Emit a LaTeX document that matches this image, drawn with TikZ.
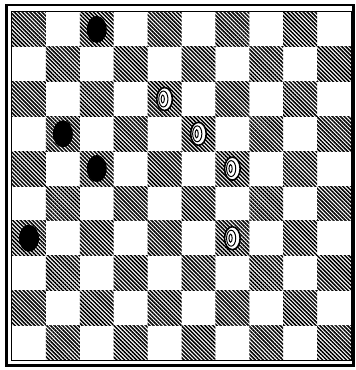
\documentclass[tikz,border=0pt]{standalone}
\usepackage{tikz}
\usetikzlibrary{patterns.meta,calc}
\tikzset{
  dsq/.style={pattern={Lines[angle=-45,distance=2.8pt,line width=1.5pt]}}, % dark square
  frame/.style={draw=black,line width=2.6pt},
  inframe/.style={draw=black,line width=0.8pt},
  bman/.style={fill=black},                          % black man
  wman/.style={draw=black,fill=white,line width=1.6pt}, % white man
  wring/.style={draw=black,line width=1pt},
}
\newcommand{\blackman}[2]{% col, row
  \fill[bman] (#1+0.5,#2+0.5) ellipse [x radius=10pt,y radius=13.5pt];
}
\newcommand{\whiteman}[2]{% col, row
  \draw[wman] (#1+0.5,#2+0.5) ellipse [x radius=7.8pt,y radius=11.5pt];
  \draw[wring] ($(#1+0.5,#2+0.5)+(-1.2pt,0)$) ellipse [x radius=4.6pt,y radius=8pt];
  \draw[wring] ($(#1+0.5,#2+0.5)+(-1.8pt,0)$) ellipse [x radius=1.6pt,y radius=4pt];
}

\begin{document}
\begin{tikzpicture}[x=1pt,y=-1pt]
  \useasboundingbox (0,0) rectangle (356,370);
  \fill[white] (0,0) rectangle (356,370);
  \begin{scope}[shift={(12,12)},x=33.9pt,y=-34.8pt]
    % board
    \foreach \r in {0,...,9}
      \foreach \c in {0,...,9} {
        \pgfmathtruncatemacro{\sqpar}{mod(\r+\c,2)}
        \ifnum\sqpar=0 \fill[dsq] (\c,\r) rectangle (\c+1,\r+1); \fi
      }
    \draw[inframe] (-0.03,-0.03) rectangle (10.01,10.01);
    % black
    \blackman{2}{0}
    \blackman{1}{3}
    \blackman{2}{4}
    \blackman{0}{6}
    % white
    \whiteman{4}{2}
    \whiteman{5}{3}
    \whiteman{6}{4}
    \whiteman{6}{6}
  \end{scope}
  \draw[frame] (6.5,4.8) rectangle (353.2,365.2);
\end{tikzpicture}
\end{document}
